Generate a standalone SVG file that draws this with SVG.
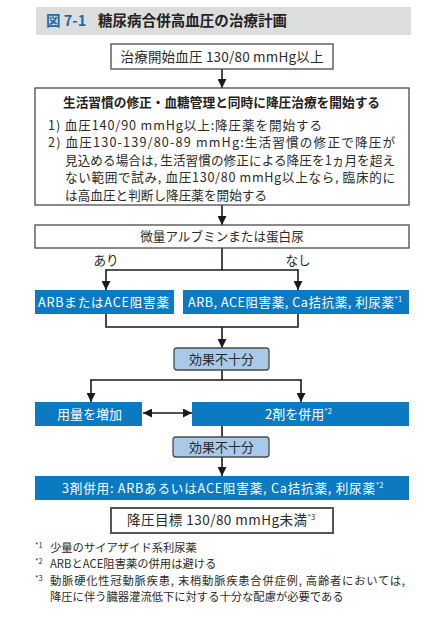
<svg xmlns="http://www.w3.org/2000/svg" width="448" height="629" viewBox="0 0 448 629">
<defs>
<style>
text{font-family:"Noto Sans CJK JP","Noto Sans",sans-serif;fill:#2a2a2a;}
.t{font-size:12.6px;}
.c{text-anchor:middle;}
.w{fill:#fff;}
.box{fill:#fff;stroke:#4a4a4a;stroke-width:1.3;}
.blue{fill:#0b7ac0;}
.lb{fill:#a9c9e9;stroke:#4a4a4a;stroke-width:1.3;}
.ln{fill:none;stroke:#1a1a1a;stroke-width:1.6;}
.sup{font-size:7.5px;}
</style>
<marker id="ah" viewBox="0 0 10 10" refX="10" refY="5" markerWidth="9" markerHeight="9" markerUnits="userSpaceOnUse" orient="auto-start-reverse">
<path d="M0,0 L10,5 L0,10 z" fill="#1a1a1a"/>
</marker>
</defs>
<rect width="448" height="629" fill="#fff"/>
<g id="title">
<rect x="36" y="7" width="375" height="28" fill="#dcdddd"/>
<text x="46" y="26" style="font-size:14.5px;font-weight:bold;fill:#1d6aa6">図 7-1</text>
<text x="98" y="26" style="font-size:14.5px;font-weight:bold;fill:#222" textLength="189" lengthAdjust="spacing">糖尿病合併高血圧の治療計画</text>
</g>
<g id="connectors">
<path class="ln" d="M222,69 V88" marker-end="url(#ah)"/>
<path class="ln" d="M222,205 V225" marker-end="url(#ah)"/>
<path class="ln" d="M222,248 V270 M106,270 H298"/>
<path class="ln" d="M106,269.2 V290" marker-end="url(#ah)"/>
<path class="ln" d="M298,269.2 V290" marker-end="url(#ah)"/>
<path class="ln" d="M106,314 V327 H298 V314"/>
<path class="ln" d="M222,327 V348" marker-end="url(#ah)"/>
<path class="ln" d="M222,370 V380 M91,380 H301"/>
<path class="ln" d="M91,379.2 V402" marker-end="url(#ah)"/>
<path class="ln" d="M301,379.2 V402" marker-end="url(#ah)"/>
<path class="ln" d="M143,413 H192" marker-start="url(#ah)" marker-end="url(#ah)"/>
<path class="ln" d="M222,426 V437"/>
<path class="ln" d="M222,457 V476" marker-end="url(#ah)"/>
</g>
<g id="start">
<rect class="box" x="111" y="44" width="222" height="25"/>
<text class="c" x="222" y="61.5" style="font-size:13.5px" textLength="203" lengthAdjust="spacing">治療開始血圧 130/80 mmHg以上</text>
</g>
<g id="lifestyle">
<rect class="box" x="35" y="88" width="374" height="117"/>
<text x="63" y="107" style="font-size:12.7px;font-weight:bold;fill:#222" textLength="317" lengthAdjust="spacing">生活習慣の修正・血糖管理と同時に降圧治療を開始する</text>
<text class="t" x="48" y="129.5" textLength="274" lengthAdjust="spacing">1) 血圧140/90 mmHg以上:降圧薬を開始する</text>
<text class="t" x="48" y="147" textLength="347" lengthAdjust="spacing">2) 血圧130-139/80-89 mmHg:生活習慣の修正で降圧が</text>
<text class="t" x="65" y="164.5" textLength="330" lengthAdjust="spacing">見込める場合は, 生活習慣の修正による降圧を1ヵ月を超え</text>
<text class="t" x="65" y="182" textLength="330" lengthAdjust="spacing">ない範囲で試み, 血圧130/80 mmHg以上なら, 臨床的に</text>
<text class="t" x="65" y="199.5" textLength="202" lengthAdjust="spacing">は高血圧と判断し降圧薬を開始する</text>
</g>
<g id="albumin">
<rect class="box" x="35" y="225" width="374" height="23"/>
<text class="t c" x="222" y="241">微量アルブミンまたは蛋白尿</text>
</g>
<g id="label-yes"><text class="t c" x="106" y="264.5">あり</text></g>
<g id="label-no"><text class="t c" x="298" y="264.5">なし</text></g>
<g id="arb-ace">
<rect class="blue" x="35" y="290" width="139" height="24"/>
<text class="t w" x="38" y="306.5" textLength="131" lengthAdjust="spacing">ARBまたはACE阻害薬</text>
</g>
<g id="four-drugs">
<rect class="blue" x="183" y="290" width="226" height="24"/>
<text class="t w" x="188" y="306.5"><tspan textLength="206" lengthAdjust="spacing">ARB, ACE阻害薬, Ca拮抗薬, 利尿薬</tspan><tspan class="sup w" dy="-5">*1</tspan></text>
</g>
<g id="insufficient-1">
<rect class="lb" x="174" y="348" width="95" height="22" rx="3"/>
<text class="c" x="221.5" y="363.5" style="font-size:13px">効果不十分</text>
</g>
<g id="increase">
<rect class="blue" x="35" y="402" width="107" height="24"/>
<text class="c w" x="89.5" y="418.5" style="font-size:13px">用量を増加</text>
</g>
<g id="two-drugs">
<rect class="blue" x="192" y="402" width="217" height="24"/>
<text class="w" x="265" y="418.5" style="font-size:13px">2剤を併用<tspan class="sup w" dy="-5">*2</tspan></text>
</g>
<g id="insufficient-2">
<rect class="lb" x="173" y="437" width="96" height="20" rx="3"/>
<text class="c" x="221.5" y="451.5" style="font-size:13px">効果不十分</text>
</g>
<g id="three-drugs">
<rect class="blue" x="35" y="476" width="374" height="24"/>
<text class="t w" x="62" y="492.5"><tspan textLength="313" lengthAdjust="spacing">3剤併用: ARBあるいはACE阻害薬, Ca拮抗薬, 利尿薬</tspan><tspan class="sup w" dy="-5">*2</tspan></text>
</g>
<g id="goal">
<rect x="111" y="508" width="222" height="25" fill="#fff" stroke="#555" stroke-width="2"/>
<text x="127" y="525" style="font-size:13.5px"><tspan textLength="180" lengthAdjust="spacing">降圧目標 130/80 mmHg未満</tspan><tspan class="sup" dy="-5">*3</tspan></text>
</g>
<g id="footnotes" style="font-size:11.3px">
<text x="35" y="548" class="sup">*1</text>
<text x="50" y="552" style="font-size:11.3px">少量のサイアザイド系利尿薬</text>
<text x="35" y="564" class="sup">*2</text>
<text x="50" y="568" style="font-size:11.3px">ARBとACE阻害薬の併用は避ける</text>
<text x="35" y="581" class="sup">*3</text>
<text x="50" y="585" style="font-size:11.3px" textLength="355" lengthAdjust="spacing">動脈硬化性冠動脈疾患, 末梢動脈疾患合併症例, 高齢者においては,</text>
<text x="50" y="601" style="font-size:11.3px">降圧に伴う臓器灌流低下に対する十分な配慮が必要である</text>
</g>
</svg>
